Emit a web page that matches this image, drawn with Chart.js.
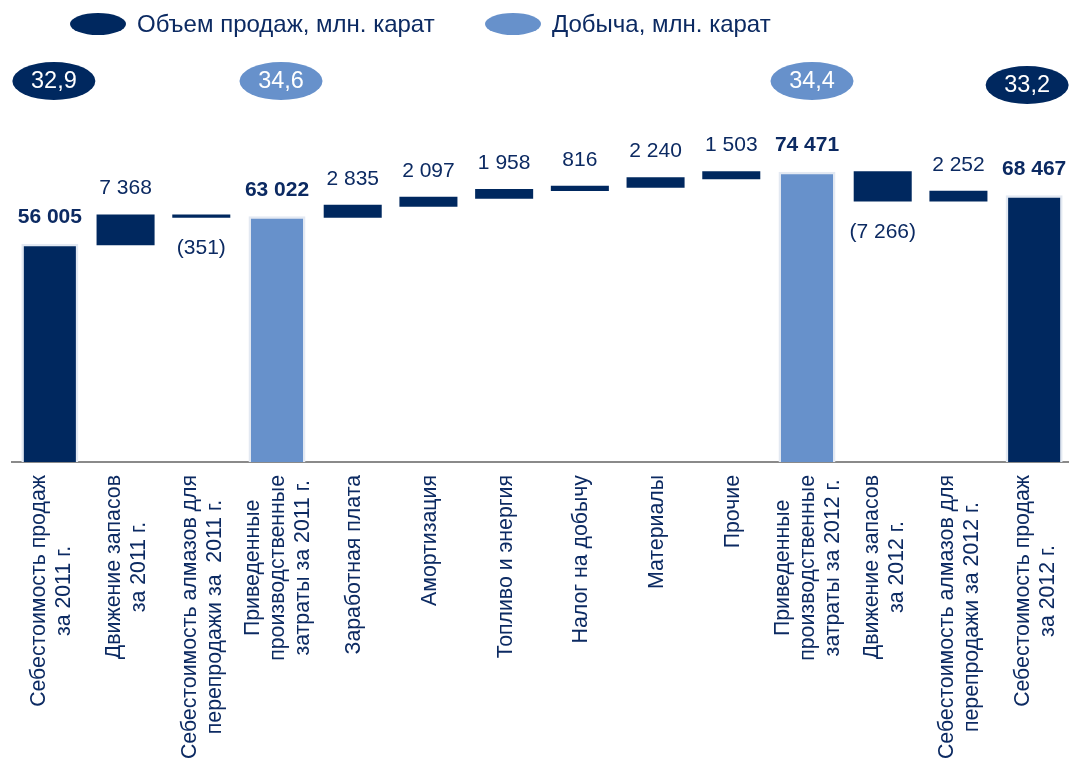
<!DOCTYPE html>
<html>
<head>
<meta charset="utf-8">
<script src="https://cdn.jsdelivr.net/npm/chart.js@4/dist/chart.umd.min.js"></script>
<style>
  html, body { margin: 0; padding: 0; overflow: hidden; background: #fff; }
  #wrap { width: 1075px; height: 765px; }
</style>
</head>
<body>
<div id="wrap"><canvas id="mainChart" width="1075" height="765"></canvas></div>
<script>
// ── data ──
const categories = [
  ['Себестоимость продаж', 'за 2011 г.'],
  ['Движение запасов', 'за 2011 г.'],
  ['Себестоимость алмазов для', 'перепродажи за  2011 г.'],
  ['Приведенные', 'производственные', 'затраты за 2011 г.'],
  ['Заработная плата'],
  ['Амортизация'],
  ['Топливо и энергия'],
  ['Налог на добычу'],
  ['Материалы'],
  ['Прочие'],
  ['Приведенные', 'производственные', 'затраты за 2012 г.'],
  ['Движение запасов', 'за 2012 г.'],
  ['Себестоимость алмазов для', 'перепродажи за 2012 г.'],
  ['Себестоимость продаж', 'за 2012 г.']
];
const values = [56005, 7368, -351, 63022, 2835, 2097, 1958, 816, 2240, 1503, 74471, -7266, 2252, 68467];
// 'sales' / 'prod' = итоговые столбцы, 'step' = изменение
const barKinds = ['sales', 'step', 'step', 'prod', 'step', 'step', 'step', 'step', 'step', 'step', 'prod', 'step', 'step', 'sales'];

const legendLabels = ['Объем продаж, млн. карат', 'Добыча, млн. карат'];
const legendKinds = ['sales', 'prod'];

const caratCategories = [0, 3, 10, 13];
const caratValues = ['32,9', '34,6', '34,4', '33,2'];
const caratKinds = ['sales', 'prod', 'prod', 'sales'];

// ── styles ──
const DARK = '#00285f';
const LIGHT = '#6791cb';
const TEXT = '#0c2a62';
const FONT = "'Liberation Sans', Arial, sans-serif";
const kindColor = k => (k === 'prod' ? LIGHT : DARK);

/** плавающие столбцы водопада */
function buildRanges() {
  let run = 0;
  return values.map((v, i) => {
    if (barKinds[i] !== 'step') { run = v; return [0, v]; }
    const r = [run, run + v];
    run += v;
    return r;
  });
}
const ranges = buildRanges();

function fmt(v) {
  const s = Math.abs(v).toString().replace(/\B(?=(\d{3})+(?!\d))/g, ' ');
  return v < 0 ? '(' + s + ')' : s;
}

function ellipse(ctx, cx, cy, rx, ry, color) {
  ctx.beginPath();
  ctx.ellipse(cx, cy, rx, ry, 0, 0, Math.PI * 2);
  ctx.fillStyle = color;
  ctx.fill();
}

// подписи значений над/под столбцами
const valueLabelPlugin = {
  id: 'valueLabels',
  afterDatasetsDraw(chart) {
    const ctx = chart.ctx;
    const y = chart.scales.y;
    const meta = chart.getDatasetMeta(0);
    ctx.save();
    ctx.fillStyle = TEXT;
    ctx.textAlign = 'center';
    meta.data.forEach((bar, i) => {
      const isTotal = barKinds[i] !== 'step';
      ctx.font = (isTotal ? 'bold 21px ' : '21px ') + FONT;
      const hi = Math.max(...ranges[i]);
      const lo = Math.min(...ranges[i]);
      if (values[i] < 0) {
        ctx.textBaseline = 'top';
        ctx.fillText(fmt(values[i]), bar.x, y.getPixelForValue(lo) + 21);
      } else {
        ctx.textBaseline = 'alphabetic';
        ctx.fillText(fmt(values[i]), bar.x, y.getPixelForValue(hi) - 21);
      }
    });
    ctx.restore();
  }
};

// повернутые подписи категорий, легенда и «пузыри» с каратами
const decorPlugin = {
  id: 'decor',
  afterDraw(chart) {
    const ctx = chart.ctx;
    const x = chart.scales.x;
    const top = chart.chartArea.bottom + 13;
    const lineH = 25;
    ctx.save();
    ctx.fillStyle = TEXT;
    ctx.font = '21.3px ' + FONT;
    categories.forEach((lines, i) => {
      const cx = x.getPixelForValue(i) + 1.5;
      const w = Math.max(...lines.map(l => ctx.measureText(l).width));
      ctx.save();
      ctx.translate(cx, top);
      ctx.rotate(-Math.PI / 2);
      ctx.textAlign = 'center';
      ctx.textBaseline = 'middle';
      lines.forEach((l, j) => {
        ctx.fillText(l, -w / 2, (j - (lines.length - 1) / 2) * lineH);
      });
      ctx.restore();
    });

    // легенда
    const legendX = [98, 513];
    ctx.font = '24px ' + FONT;
    ctx.textAlign = 'left';
    ctx.textBaseline = 'middle';
    legendLabels.forEach((t, i) => {
      ellipse(ctx, legendX[i], 24, 28, 11, kindColor(legendKinds[i]));
      ctx.fillStyle = TEXT;
      ctx.fillText(t, legendX[i] + 39, 25);
    });

    // пузыри с объемом в каратах
    const dx = [4, 4, 5, -7];
    const dy = [0, 0, 0, 4];
    ctx.font = '23.5px ' + FONT;
    ctx.textAlign = 'center';
    caratCategories.forEach((c, i) => {
      const bx = x.getPixelForValue(c) + dx[i];
      const by = 81 + dy[i];
      ellipse(ctx, bx, by, 41.5, 19, kindColor(caratKinds[i]));
      ctx.fillStyle = '#ffffff';
      ctx.fillText(caratValues[i], bx, by + 1);
    });
    ctx.restore();
  }
};

const ctx = document.getElementById('mainChart').getContext('2d');
new Chart(ctx, {
  type: 'bar',
  data: {
    labels: categories.map(l => l.join(' ')),
    datasets: [{
      data: ranges,
      backgroundColor: barKinds.map(kindColor),
      borderColor: barKinds.map(k => (k === 'step' ? DARK : '#e3e9f2')),
      borderWidth: barKinds.map(k => (k === 'step' ? 0 : 2.5)),
      borderSkipped: 'start',
      inflateAmount: barKinds.map(k => (k === 'step' ? 1 : 0.5)),
      barPercentage: 0.74,
      categoryPercentage: 1
    }]
  },
  options: {
    responsive: false,
    animation: false,
    layout: { padding: { top: 73, left: 12, right: 3, bottom: 0 } },
    plugins: {
      legend: { display: false },
      tooltip: { enabled: false }
    },
    scales: {
      x: {
        grid: { display: false },
        border: { display: true, color: '#8a8a8a', width: 2 },
        ticks: { display: false },
        afterFit: s => { s.height = 303; }
      },
      y: { display: false, min: 0, max: 100000 }
    }
  },
  plugins: [valueLabelPlugin, decorPlugin]
});
</script>
</body>
</html>
